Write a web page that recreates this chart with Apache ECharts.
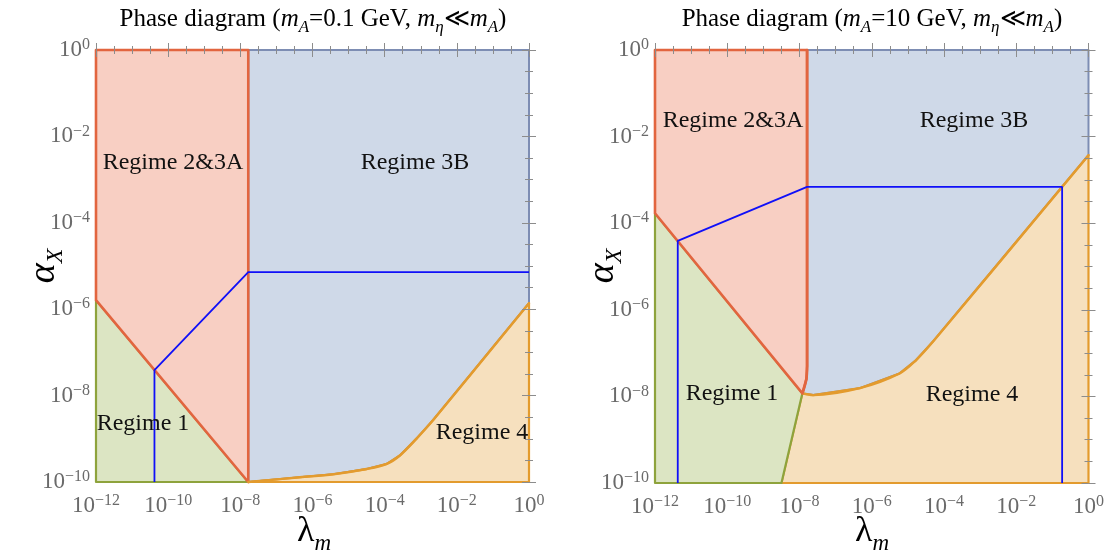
<!DOCTYPE html>
<html>
<head>
<meta charset="utf-8">
<script src="https://cdn.jsdelivr.net/npm/echarts@6/dist/echarts.min.js"></script>
<style>
  html, body { margin: 0; padding: 0; background: #ffffff; }
  #chart { width: 1107px; height: 552px; }
</style>
</head>
<body>
<div id="chart"></div>
<script>
// Every coordinate below is a decade exponent: x = log10(lambda_m), y = log10(alpha_X)
const xTicks = [-12, -10, -8, -6, -4, -2, 0];
const yTicks = [-10, -8, -6, -4, -2, 0];
const panelTitles = ['0.1 GeV', '10 GeV'];

// ---- Panel A: m_A = 0.1 GeV ----
const aRegime1Edge = [[-12, -5.79], [-7.78, -10]];          // Regime 1 | Regime 2&3A
const aVerticalEdge = [[-7.78, -10], [-7.78, 0]];            // Regime 2&3A | Regime 3B
const aRegime4Edge = [[-7.78, -10], [-6.35, -9.89], [-5.42, -9.82], [-4.50, -9.70],
                      [-3.94, -9.58], [-3.57, -9.38], [-3.11, -8.99], [-2.65, -8.56], [0, -5.86]];
const aBlueLine = [[-10.38, -10], [-10.38, -7.41], [-7.78, -5.14], [0, -5.14]];

// ---- Panel B: m_A = 10 GeV ----
const bRegime1Edge = [[-12, -3.77], [-7.92, -7.93]];
const bVerticalEdge = [[-7.92, -7.93], [-7.81, -7.60], [-7.79, -7.30], [-7.79, 0]];
const bRegime4Edge = [[-7.92, -7.93], [-7.62, -7.97], [-6.33, -7.81], [-5.23, -7.47],
                      [-4.77, -7.16], [-4.31, -6.74], [0, -2.43]];
const bGreenEdge = [[-7.92, -7.93], [-8.50, -10]];
const bBlueLine = [[-11.37, -10], [-11.37, -4.41], [-7.79, -3.16], [-0.73, -3.16], [-0.73, -10]];

const COLORS = {
  r23: { fill: '#f8cfc3', stroke: '#e2653f' },
  r3b: { fill: '#cfd9e8', stroke: '#7d8db3' },
  r1:  { fill: '#dce5c3', stroke: '#8ea33c' },
  r4:  { fill: '#f6e0be', stroke: '#e39b2e' },
  blue: '#1010f8'
};
const SERIF = '"Liberation Serif", "DejaVu Serif", serif';
const rev = a => a.slice().reverse();

function regions(r1Edge, vEdge, r4Edge, greenEdge) {
  const r1 = greenEdge
    ? [[-12, -10], ...r1Edge, greenEdge[greenEdge.length - 1]]
    : [[-12, -10], ...r1Edge];
  const r23 = [[-12, 0], ...r1Edge, ...vEdge.slice(1)];
  const r3b = [[0, 0], ...rev(r4Edge), ...vEdge.slice(1)];
  const r4 = greenEdge
    ? [greenEdge[greenEdge.length - 1], ...r4Edge, [0, -10]]
    : [...r4Edge, [0, -10]];
  return { r1, r23, r3b, r4 };
}

function polygon(grid, pts, col, z, width) {
  return {
    type: 'custom', xAxisIndex: grid * 2, yAxisIndex: grid * 2, z: z, clip: false,
    silent: true, data: [pts[0]],
    renderItem: (params, api) => ({
      type: 'polygon',
      shape: { points: pts.map(p => api.coord(p)) },
      style: { fill: col.fill, stroke: col.stroke, lineWidth: width, lineJoin: 'round' }
    })
  };
}

// curved region boundaries traced on top of the filled regions
function boundary(grid, pts, color, width, z) {
  return {
    type: 'line', xAxisIndex: grid * 2, yAxisIndex: grid * 2, z: z, silent: true,
    data: pts, symbol: 'none', smooth: 0.35, clip: false,
    lineStyle: { color: color, width: width, cap: 'round', join: 'round' }
  };
}

function blueLine(grid, pts) {
  return {
    type: 'line', xAxisIndex: grid * 2, yAxisIndex: grid * 2, z: 8, silent: true,
    data: pts, symbol: 'none', lineStyle: { color: COLORS.blue, width: 1.8 }
  };
}

const expLabel = v => '{b|10}{e|' + (v === 0 ? '0' : '\u2212' + Math.abs(v)) + '}';
const labelRich = {
  b: { fontFamily: SERIF, fontSize: 23, color: '#6a6a6a', lineHeight: 26 },
  e: { fontFamily: SERIF, fontSize: 16, color: '#6a6a6a', lineHeight: 16, verticalAlign: 'top' }
};
const tickStyle = { color: '#8c8c8c', width: 1 };

function xAxes(grid) {
  const base = {
    type: 'value', gridIndex: grid, min: -12, max: 0, interval: 2, z: 10,
    axisLine: { show: false }, splitLine: { show: false },
    axisTick: { show: true, inside: true, length: 7, lineStyle: tickStyle },
    minorTick: { show: true, splitNumber: 4, length: 4, lineStyle: tickStyle }
  };
  return [
    Object.assign({}, base, { position: 'bottom',
      axisLabel: { show: true, margin: 11, formatter: expLabel, rich: labelRich } }),
    Object.assign({}, base, { position: 'top', axisLabel: { show: false } })
  ];
}
function yAxes(grid) {
  const base = {
    type: 'value', gridIndex: grid, min: -10, max: 0, interval: 2, z: 10,
    axisLine: { show: false }, splitLine: { show: false },
    axisTick: { show: true, inside: true, length: 7, lineStyle: tickStyle },
    minorTick: { show: true, splitNumber: 4, length: 4, lineStyle: tickStyle }
  };
  return [
    Object.assign({}, base, { position: 'left',
      axisLabel: { show: true, margin: 6, formatter: expLabel, rich: labelRich } }),
    Object.assign({}, base, { position: 'right', axisLabel: { show: false } })
  ];
}

const A = regions(aRegime1Edge, aVerticalEdge, aRegime4Edge, null);
const B = regions(bRegime1Edge, bVerticalEdge, bRegime4Edge, bGreenEdge);

const series = [];
[A, B].forEach((R, g) => {
  series.push(polygon(g, R.r3b, COLORS.r3b, 1, 2));
  series.push(polygon(g, R.r4, COLORS.r4, 2, 2.2));
  series.push(polygon(g, R.r1, COLORS.r1, 3, 2.2));
  series.push(polygon(g, R.r23, COLORS.r23, 4, 2.6));
});
series.push(boundary(0, aRegime4Edge, COLORS.r4.stroke, 2.4, 5));
series.push(boundary(1, bRegime4Edge, COLORS.r4.stroke, 2.4, 5));
series.push(boundary(1, bVerticalEdge, COLORS.r23.stroke, 2.6, 6));
series.push(blueLine(0, aBlueLine));
series.push(blueLine(1, bBlueLine));

function titleText(mass) {
  return '{n|Phase diagram (}{i|m}{s|A}{n|=' + mass + ', }{i|m}{s|\u03b7}{n|\u226a}{i|m}{s|A}{n|)}';
}
const titleRich = {
  n: { fontFamily: SERIF, fontSize: 25, color: '#111', lineHeight: 30 },
  i: { fontFamily: SERIF, fontSize: 25, fontStyle: 'italic', color: '#111', lineHeight: 30 },
  s: { fontFamily: SERIF, fontSize: 17, fontStyle: 'italic', color: '#111', lineHeight: 17,
       verticalAlign: 'bottom', padding: [0, 0, -2, 0] }
};
const axisRich = {
  g: { fontFamily: SERIF, fontSize: 38, fontStyle: 'italic', color: '#111', lineHeight: 40 },
  s: { fontFamily: SERIF, fontSize: 24, fontStyle: 'italic', color: '#111', lineHeight: 24,
       verticalAlign: 'bottom', padding: [0, 0, -4, 0] }
};
const lambdaRich = {
  g: { fontFamily: SERIF, fontSize: 36, color: '#111', lineHeight: 38 },
  s: { fontFamily: SERIF, fontSize: 23, fontStyle: 'italic', color: '#111', lineHeight: 23,
       verticalAlign: 'bottom', padding: [0, 0, -4, 0] }
};

function txt(x, y, text) {
  return {
    type: 'text', x: x, y: y, silent: true,
    style: { text: text, fontFamily: SERIF, fontSize: 24, fill: '#111', align: 'center',
             verticalAlign: 'middle' }
  };
}
function richTxt(x, y, text, rich, rotation) {
  return {
    type: 'text', x: x, y: y, rotation: rotation || 0, silent: true,
    style: { text: text, rich: rich, align: 'center', verticalAlign: 'middle' }
  };
}

const graphics = [
  richTxt(313, 19, titleText(panelTitles[0]), titleRich),
  richTxt(872, 19, titleText(panelTitles[1]), titleRich),
  richTxt(44, 266, '{g|\u03b1}{s|X}', axisRich, Math.PI / 2),
  richTxt(603, 266, '{g|\u03b1}{s|X}', axisRich, Math.PI / 2),
  richTxt(314, 532, '{g|\u03bb}{s|m}', lambdaRich),
  richTxt(872, 532, '{g|\u03bb}{s|m}', lambdaRich),
  txt(173, 163, 'Regime 2&3A'),
  txt(415, 163, 'Regime 3B'),
  txt(143, 424, 'Regime 1'),
  txt(482, 433, 'Regime 4'),
  txt(733, 121, 'Regime 2&3A'),
  txt(974, 121, 'Regime 3B'),
  txt(732, 394, 'Regime 1'),
  txt(972, 395, 'Regime 4')
];
graphics.forEach(g => { g.z = 20; });

const chart = echarts.init(document.getElementById('chart'), null, { renderer: 'canvas' });
chart.setOption({
  animation: false,
  backgroundColor: '#ffffff',
  grid: [
    { left: 96, top: 50, width: 433, height: 432 },
    { left: 655, top: 50, width: 434, height: 433 }
  ],
  xAxis: [...xAxes(0), ...xAxes(1)],
  yAxis: [...yAxes(0), ...yAxes(1)],
  series: series,
  graphic: graphics
});
</script>
</body>
</html>
